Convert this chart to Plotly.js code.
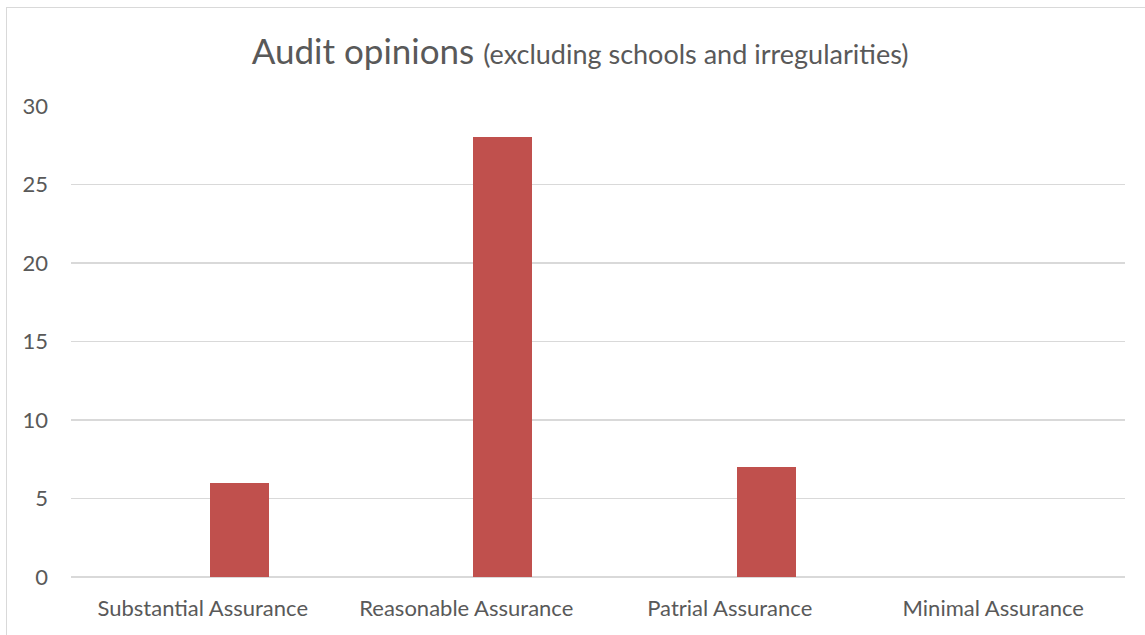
<!DOCTYPE html>
<html>
<head>
<meta charset="utf-8">
<script src="https://cdn.plot.ly/plotly-3.0.1.min.js"></script>
<style>
  html, body { margin: 0; padding: 0; background: #fff; }
  #wrap { position: relative; width: 1145px; height: 635px; overflow: hidden; }
  #frame { position: absolute; left: 6px; top: 7px; width: 1160px; height: 660px; border: 1.5px solid #d9d9d9; box-sizing: border-box; pointer-events: none; }
  #chart { position: absolute; left: 0; top: 0; width: 1145px; height: 635px; }
</style>
</head>
<body>
<div id="wrap">
  <div id="chart"></div>
  <div id="frame"></div>
</div>
<script>
const categories = ["Substantial Assurance", "Reasonable Assurance", "Patrial Assurance", "Minimal Assurance"];
const opinionCounts = [6, 28, 7, 0];
const yTickValues = [0, 5, 10, 15, 20, 25, 30];
const yTickLabels = ["0", "5", "10", "15", "20", "25", "30"];

const FONT = "Lato, 'Open Sans', sans-serif";
const GREY = "#595959";

const trace = {
  type: "bar",
  x: categories,
  y: opinionCounts,
  width: 0.224,
  offset: 0.027,
  marker: { color: "#C0504D", line: { width: 0 } },
  hoverinfo: "x+y"
};

const layout = {
  width: 1145,
  height: 635,
  margin: { l: 71, r: 20, t: 106, b: 58 },
  paper_bgcolor: "rgba(0,0,0,0)",
  plot_bgcolor: "rgba(0,0,0,0)",
  showlegend: false,
  font: { family: FONT, color: GREY, size: 22 },
  title: {
    text: 'Audit opinions <span style="font-size:27px">(excluding schools and irregularities)</span>',
    font: { family: FONT, size: 35, color: GREY },
    x: 0.5066, xref: "container", xanchor: "center",
    y: 0.918, yref: "container", yanchor: "middle"
  },
  xaxis: {
    type: "category",
    tickfont: { family: FONT, size: 22, color: GREY },
    showgrid: false,
    zeroline: false,
    showline: false,
    ticks: "",
    ticklabelstandoff: 16,
    fixedrange: true
  },
  yaxis: {
    range: [0, 30],
    tickvals: yTickValues,
    ticktext: yTickLabels,
    tickfont: { family: FONT, size: 22, color: GREY },
    showgrid: true,
    gridcolor: "#D9D9D9",
    gridwidth: 1.3,
    zeroline: true,
    zerolinecolor: "#D9D9D9",
    zerolinewidth: 1.3,
    showline: false,
    ticks: "",
    ticklabelstandoff: 22,
    fixedrange: true
  },
  bargap: 0
};

Plotly.newPlot("chart", [trace], layout, { displayModeBar: false, staticPlot: true });
</script>
</body>
</html>
